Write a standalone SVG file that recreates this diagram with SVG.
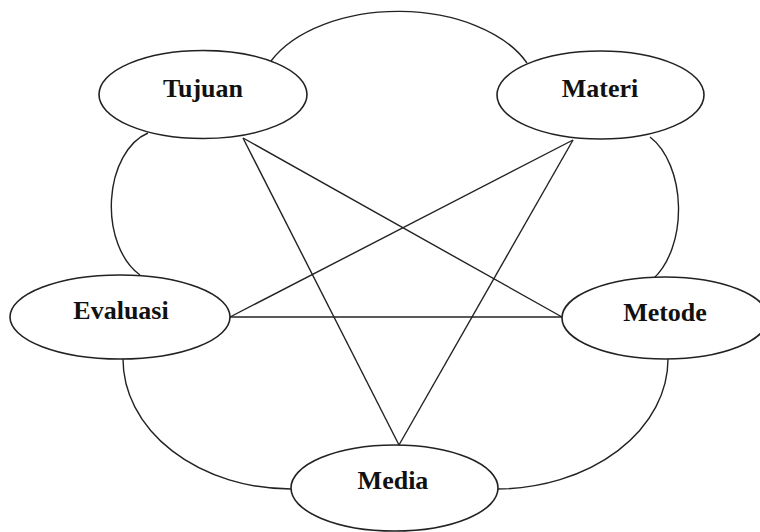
<svg xmlns="http://www.w3.org/2000/svg" width="760" height="532" viewBox="0 0 760 532">
<style>
.node ellipse{fill:#fff;stroke:#222;stroke-width:1.6}
.node text{font-family:"Liberation Serif","Times New Roman",serif;font-weight:bold;font-size:26px;fill:#111;text-anchor:middle}
#connectors path,#connectors line{fill:none;stroke:#222;stroke-width:1.4}
</style>
<rect width="760" height="532" fill="#fff"/>
<g id="connectors">
<path d="M271,61 A140,85 0 0 1 527,63"/>
<path d="M650,137 A50,80 0 0 1 653,279"/>
<path d="M668,359 A172,130 0 0 1 497,489"/>
<path d="M123,359 A168,130 0 0 0 291,489"/>
<path d="M148,133 A50,76 0 0 0 140,275"/>
<line x1="243" y1="138" x2="562" y2="317"/>
<line x1="243" y1="138" x2="399" y2="445"/>
<line x1="573" y1="140" x2="230" y2="317"/>
<line x1="573" y1="140" x2="399" y2="445"/>
<line x1="230" y1="317" x2="562" y2="317"/>
</g>
<g id="tujuan" class="node"><ellipse cx="203" cy="94.5" rx="104" ry="44"/><text x="203" y="97">Tujuan</text></g>
<g id="materi" class="node"><ellipse cx="600.5" cy="95" rx="103.5" ry="44"/><text x="600" y="97">Materi</text></g>
<g id="evaluasi" class="node"><ellipse cx="120" cy="317" rx="110" ry="42"/><text x="121" y="319">Evaluasi</text></g>
<g id="metode" class="node"><ellipse cx="665" cy="318" rx="103" ry="41"/><text x="665" y="321">Metode</text></g>
<g id="media" class="node"><ellipse cx="394.5" cy="488" rx="103.5" ry="43"/><text x="393" y="489">Media</text></g>
</svg>
